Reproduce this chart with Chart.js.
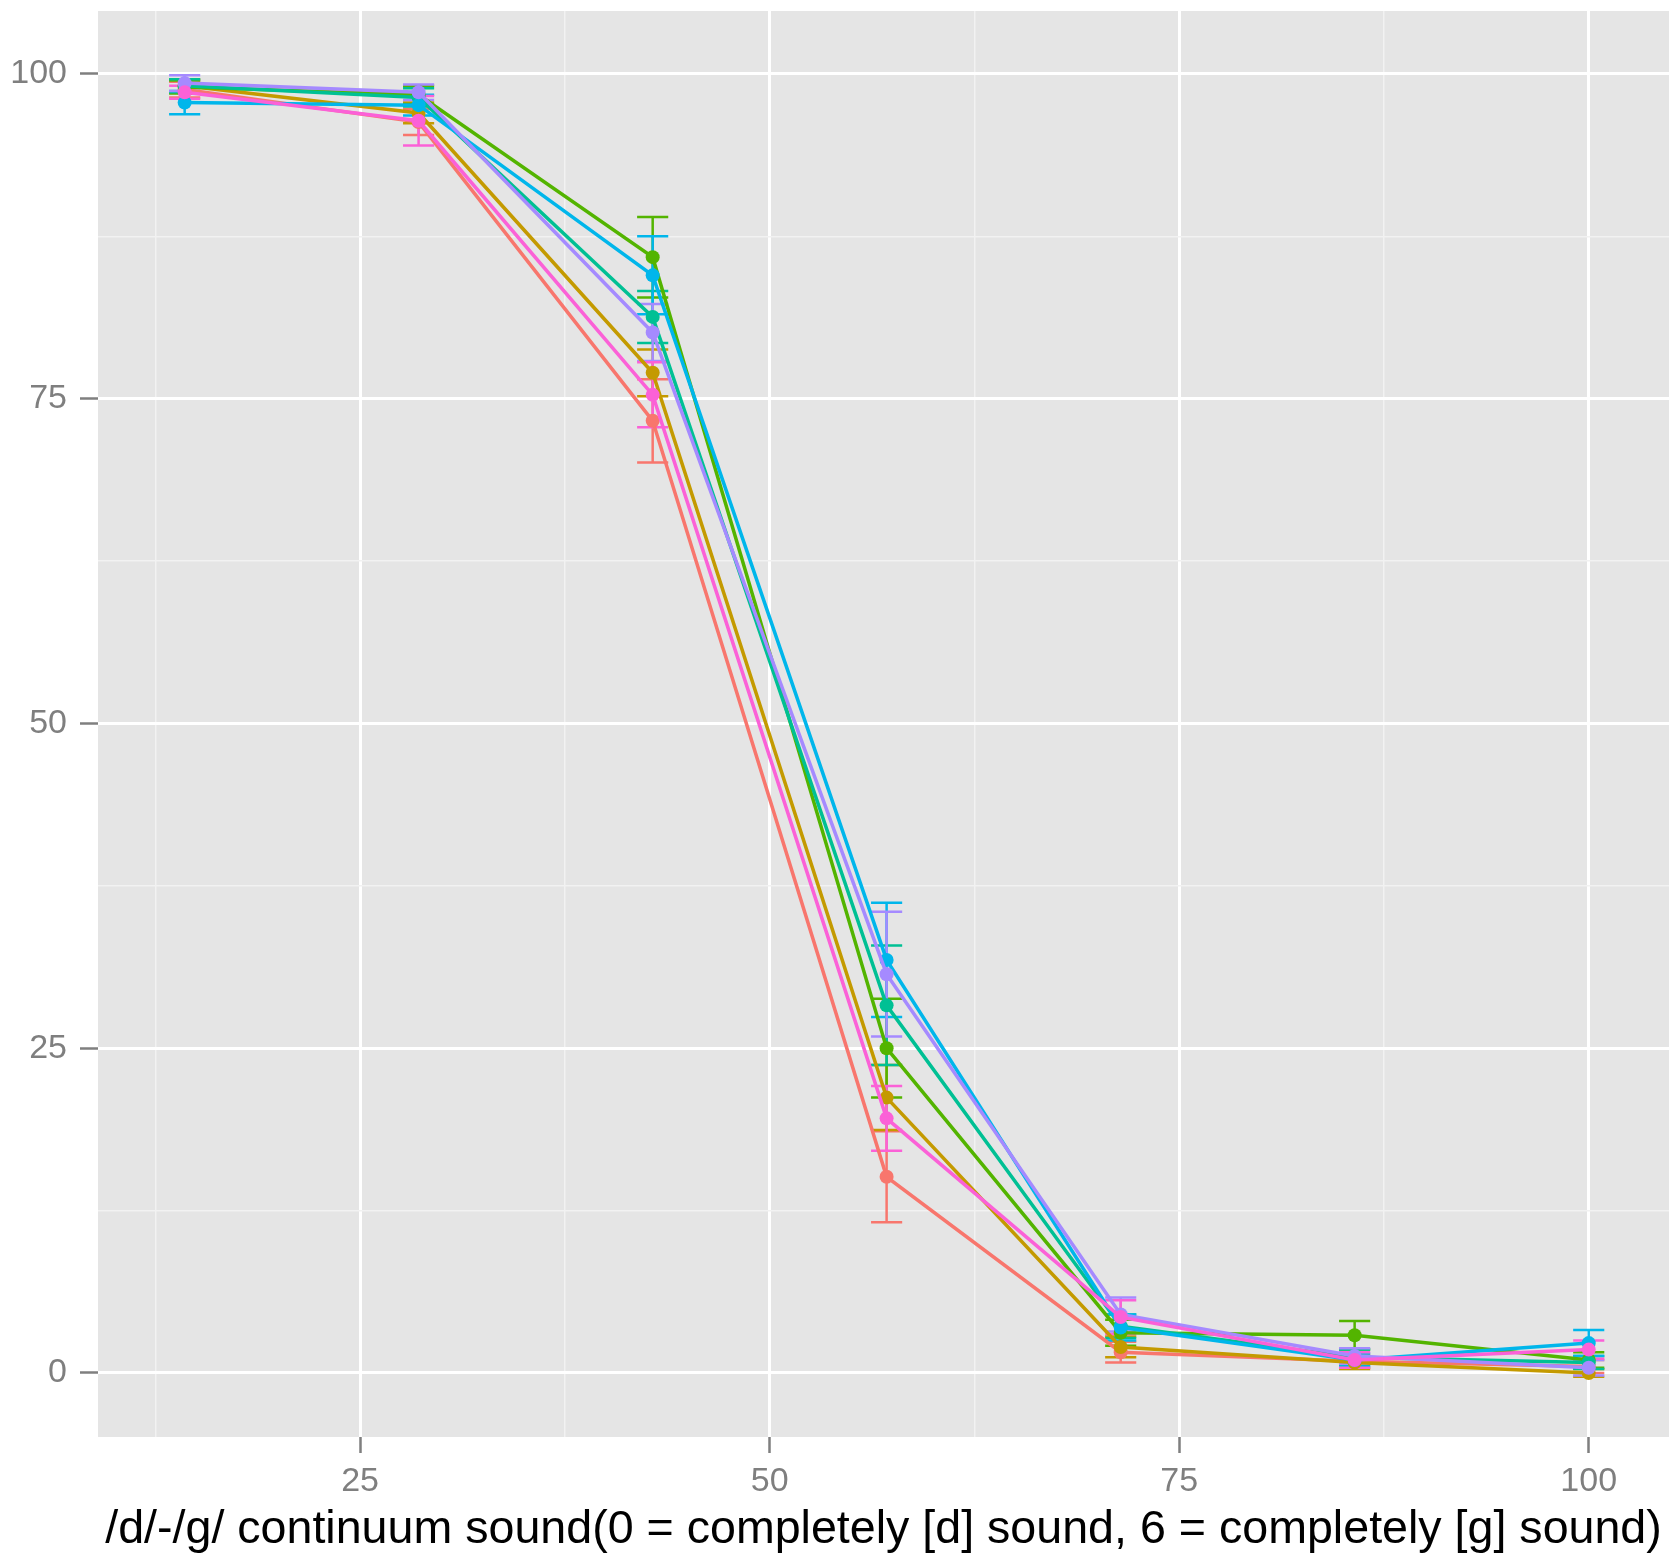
<!DOCTYPE html>
<html>
<head>
<meta charset="utf-8">
<script src="https://cdn.jsdelivr.net/npm/chart.js@4/dist/chart.umd.min.js"></script>
<style>
  html, body { margin: 0; padding: 0; background: #ffffff; }
  #wrap { width: 1669px; height: 1558px; }
</style>
</head>
<body>
<div id="wrap"><canvas id="chart" width="1669" height="1558"></canvas></div>
<script>
// continuum steps (as percent of the way from [d] to [g])
const steps = [14.29, 28.57, 42.86, 57.14, 71.43, 85.71, 100];

// % of [d] responses per group
const grp1 = [98.8, 96.3, 73.3, 15.1, 1.6, 0.9, 0.5];
const grp2 = [99.1, 97.0, 77.0, 21.2, 2.0, 0.8, 0.0];
const grp3 = [99.0, 98.4, 85.9, 25.0, 3.1, 2.9, 1.0];
const grp4 = [99.1, 98.2, 81.3, 28.3, 3.6, 1.2, 0.8];
const grp5 = [97.8, 97.6, 84.5, 31.8, 3.5, 1.0, 2.3];
const grp6 = [99.3, 98.6, 80.1, 30.7, 4.5, 1.3, 0.4];
const grp7 = [98.6, 96.4, 75.3, 19.6, 4.3, 1.0, 1.8];

// half length of the error bars
const err1 = [0.6, 1.0, 3.2, 3.5, 0.8, 0.5, 0.5];
const err2 = [0.5, 0.8, 1.8, 2.5, 0.8, 0.5, 0.3];
const err3 = [0.5, 0.7, 3.1, 3.8, 1.0, 1.1, 0.6];
const err4 = [0.5, 0.7, 2.0, 4.6, 0.9, 0.6, 0.5];
const err5 = [0.9, 0.8, 3.0, 4.4, 1.0, 0.5, 1.0];
const err6 = [0.6, 0.6, 2.2, 4.8, 1.3, 0.6, 0.6];
const err7 = [0.5, 1.9, 2.5, 2.5, 1.3, 0.6, 0.7];

const groups = ['1', '2', '3', '4', '5', '6', '7'];
const colors = ['#F8766D', '#C49A00', '#53B400', '#00C094', '#00B6EB', '#A58AFF', '#FB61D7'];

const xTicks = [12.5, 25, 37.5, 50, 62.5, 75, 87.5, 100];
const yTicks = [0, 12.5, 25, 37.5, 50, 62.5, 75, 87.5, 100];
const xTitle = '/d/-/g/ continuum sound(0 = completely [d] sound, 6 = completely [g] sound)';

const allVals = [grp1, grp2, grp3, grp4, grp5, grp6, grp7];
const allErrs = [err1, err2, err3, err4, err5, err6, err7];

const isMajor = v => v % 25 === 0;

// grey panel behind the plot
const panelBg = {
    id: 'panelBg',
    beforeDraw(chart) {
        const a = chart.chartArea;
        const c = chart.ctx;
        c.save();
        c.fillStyle = '#E5E5E5';
        c.fillRect(a.left, a.top, a.right - a.left, a.bottom - a.top);
        c.restore();
    }
};

// error bars, drawn under the lines
const errorBars = {
    id: 'errorBars',
    beforeDatasetsDraw(chart) {
        const xs = chart.scales.x, ys = chart.scales.y;
        const c = chart.ctx;
        const a = chart.chartArea;
        c.save();
        c.beginPath();
        c.rect(a.left, a.top, a.right - a.left, a.bottom - a.top);
        c.clip();
        c.lineWidth = 2.5;
        allVals.forEach((vals, i) => {
            c.strokeStyle = colors[i];
            vals.forEach((v, j) => {
                const e = allErrs[i][j];
                const px = xs.getPixelForValue(steps[j]);
                const xl = xs.getPixelForValue(steps[j] - 0.95);
                const xr = xs.getPixelForValue(steps[j] + 0.95);
                const y1 = ys.getPixelForValue(v - e);
                const y2 = ys.getPixelForValue(v + e);
                c.beginPath();
                c.moveTo(px, y1); c.lineTo(px, y2);
                c.moveTo(xl, y1); c.lineTo(xr, y1);
                c.moveTo(xl, y2); c.lineTo(xr, y2);
                c.stroke();
            });
        });
        c.restore();
    }
};

const datasets = allVals.map((vals, i) => ({
    label: groups[i],
    data: vals.map((v, j) => ({ x: steps[j], y: v })),
    borderColor: colors[i],
    backgroundColor: colors[i],
    borderWidth: 3.5,
    pointRadius: 7,
    pointBorderWidth: 0,
    pointHoverRadius: 7,
    tension: 0,
    order: allVals.length - 1 - i
}));

const tickFont = { family: 'Liberation Sans, Arial, sans-serif', size: 34 };

new Chart(document.getElementById('chart'), {
    type: 'line',
    data: { datasets },
    plugins: [panelBg, errorBars],
    options: {
        responsive: false,
        animation: false,
        devicePixelRatio: 1,
        layout: { autoPadding: false, padding: { top: 11, right: 0, bottom: 0, left: 0 } },
        plugins: {
            legend: { display: false },
            tooltip: { enabled: false }
        },
        scales: {
            x: {
                type: 'linear',
                min: 9.0,
                max: 104.9,
                afterBuildTicks: s => { s.ticks = xTicks.map(v => ({ value: v })); },
                afterFit: s => { s.height = 121; s.paddingLeft = 0; s.paddingRight = 0; },
                border: { display: false },
                grid: {
                    color: ctx => isMajor(ctx.tick.value) ? '#FFFFFF' : '#F2F2F2',
                    lineWidth: ctx => isMajor(ctx.tick.value) ? 3 : 1.5,
                    tickColor: ctx => isMajor(ctx.tick.value) ? '#7F7F7F' : 'rgba(0,0,0,0)',
                    tickWidth: 2.5,
                    tickLength: 16,
                    drawTicks: true
                },
                ticks: {
                    color: '#7F7F7F',
                    font: tickFont,
                    padding: 8,
                    maxRotation: 0,
                    autoSkip: false,
                    callback: v => isMajor(v) ? String(v) : ''
                },
                title: {
                    display: true,
                    text: xTitle,
                    color: '#000000',
                    font: { family: 'Liberation Sans, Arial, sans-serif', size: 46.6 },
                    padding: 0
                }
            },
            y: {
                min: -4.93,
                max: 104.85,
                afterBuildTicks: s => { s.ticks = yTicks.map(v => ({ value: v })); },
                afterFit: s => { s.width = 98; s.paddingTop = 0; s.paddingBottom = 0; },
                border: { display: false },
                grid: {
                    color: ctx => isMajor(ctx.tick.value) ? '#FFFFFF' : '#F2F2F2',
                    lineWidth: ctx => isMajor(ctx.tick.value) ? 3 : 1.5,
                    tickColor: ctx => isMajor(ctx.tick.value) ? '#7F7F7F' : 'rgba(0,0,0,0)',
                    tickWidth: 2.5,
                    tickLength: 18,
                    drawTicks: true
                },
                ticks: {
                    color: '#7F7F7F',
                    font: tickFont,
                    padding: 13,
                    autoSkip: false,
                    callback: v => isMajor(v) ? String(v) : ''
                }
            }
        }
    }
});
</script>
</body>
</html>
